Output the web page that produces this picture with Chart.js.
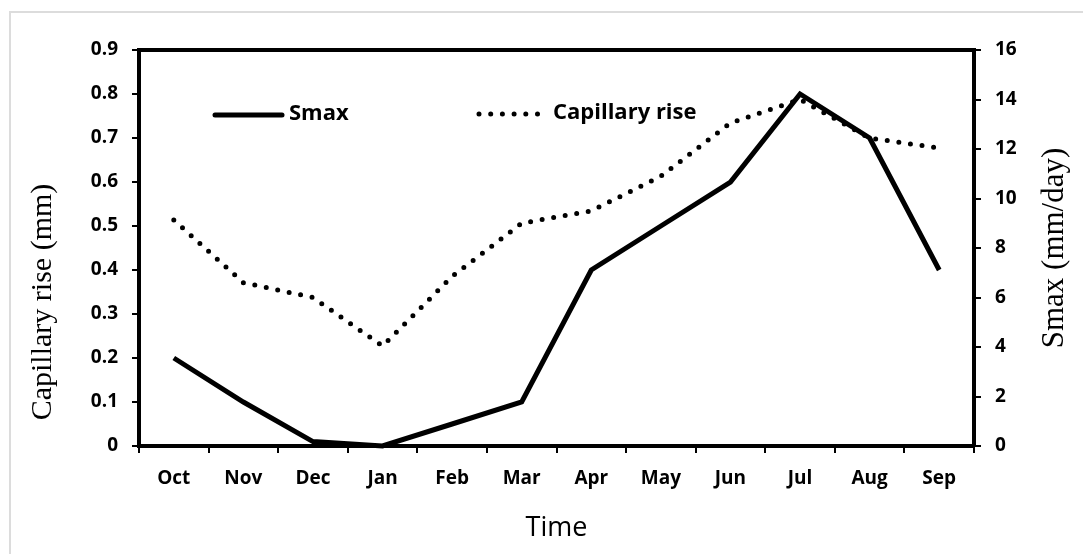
<!DOCTYPE html>
<html>
<head>
<meta charset="utf-8">
<script src="https://cdn.jsdelivr.net/npm/chart.js@4.4.1/dist/chart.umd.min.js"></script>
<style>
  body { margin: 0; background: #fff; }
  #wrap { position: relative; width: 1083px; height: 554px; overflow: hidden; }
  #frame { position: absolute; left: 9px; top: 11px; width: 1200px; height: 700px;
           border-left: 2px solid #dcdcdc; border-top: 2px solid #dcdcdc; }
  canvas { position: absolute; left: 0; top: 0; }
</style>
</head>
<body>
<div id="wrap">
  <div id="frame"></div>
  <canvas id="capChart" width="1083" height="554"></canvas>
</div>
<script>
   // Data ===============================================================
   const months = ['Oct', 'Nov', 'Dec', 'Jan', 'Feb', 'Mar', 'Apr', 'May', 'Jun', 'Jul', 'Aug', 'Sep'];
   const smax = [0.2, 0.1, 0.01, 0, 0.05, 0.1, 0.4, 0.5, 0.6, 0.8, 0.7, 0.4]; // solid line, left axis
   const capillaryRise = [9.13, 6.6, 6.0, 4.04, 6.85, 9.0, 9.5, 10.9, 13.05, 14.0, 12.44, 12.04]; // dotted line, right axis
   const leftTicks = ['0', '0.1', '0.2', '0.3', '0.4', '0.5', '0.6', '0.7', '0.8', '0.9'];
   const rightTicks = ['0', '2', '4', '6', '8', '10', '12', '14', '16'];

   Chart.defaults.font.family = '"Open Sans", Lato, sans-serif';
   Chart.defaults.color = '#000';

   // top frame line, legend inside the plot, y axis titles
   const extras = {
       id: 'extras',
       afterDraw(chart) {
           const ctx = chart.ctx;
           const a = chart.chartArea;
           ctx.save();
           ctx.strokeStyle = '#000';
           ctx.lineWidth = 4;
           ctx.beginPath();
           ctx.moveTo(a.left - 2, a.top);
           ctx.lineTo(a.right + 2, a.top);
           ctx.stroke();

           // legend
           const ds = chart.data.datasets;
           ctx.lineCap = 'round';
           ctx.lineWidth = 5;
           ctx.beginPath();
           ctx.moveTo(215, 115);
           ctx.lineTo(282, 115);
           ctx.stroke();
           ctx.setLineDash([0, 11.7]);
           ctx.beginPath();
           ctx.moveTo(479, 114);
           ctx.lineTo(545, 114);
           ctx.stroke();
           ctx.setLineDash([]);
           ctx.fillStyle = '#000';
           ctx.font = 'bold 22px "Open Sans", sans-serif';
           ctx.textBaseline = 'middle';
           ctx.textAlign = 'left';
           ctx.fillText(ds[0].label, 289, 114);
           ctx.fillText(ds[1].label, 553, 113);

           // axis titles
           ctx.font = '30px "Liberation Serif", serif';
           ctx.textAlign = 'center';
           ctx.translate(43, 302);
           ctx.rotate(-Math.PI / 2);
           ctx.fillText('Capillary rise (mm)', 0, 0);
           ctx.setTransform(1, 0, 0, 1, 0, 0);
           ctx.font = '31px "Liberation Serif", serif';
           ctx.translate(1055, 248);
           ctx.rotate(-Math.PI / 2);
           ctx.fillText('Smax (mm/day)', 0, 0);
           ctx.restore();
       }
   };

   const capChart = document.getElementById('capChart').getContext('2d');
   new Chart(capChart, {
       type: 'line',
       data: {
           labels: months,
           datasets: [
               {
                   label: 'Smax',
                   data: smax,
                   yAxisID: 'y',
                   borderColor: '#000',
                   borderWidth: 5,
                   pointRadius: 0,
                   tension: 0,
                   clip: false
               },
               {
                   label: 'Capillary rise',
                   data: capillaryRise,
                   yAxisID: 'y1',
                   borderColor: '#000',
                   borderWidth: 5,
                   borderDash: [0, 11.7],
                   borderCapStyle: 'round',
                   pointRadius: 0,
                   tension: 0,
                   clip: false
               }
           ]
       },
       options: {
           responsive: false,
           animation: false,
           layout: { padding: { top: 50, left: 0, right: 0, bottom: 0 } },
           plugins: {
               legend: { display: false },
               tooltip: { enabled: false }
           },
           scales: {
               x: {
                   offset: true,
                   grid: { offset: true, drawOnChartArea: false, color: '#000', lineWidth: 2, tickLength: 7 },
                   border: { color: '#000', width: 4 },
                   ticks: { font: { size: 19, weight: 'bold' }, padding: 14, maxRotation: 0 },
                   title: { display: true, text: 'Time', font: { size: 27 }, padding: { top: 0, bottom: 9 } },
                   afterFit(scale) { scale.height = 108; }
               },
               y: {
                   position: 'left',
                   min: 0,
                   max: 0.9,
                   ticks: {
                       stepSize: 0.1,
                       font: { size: 19, weight: 'bold' },
                       padding: 14,
                       callback: (v, i) => leftTicks[i]
                   },
                   grid: { drawOnChartArea: false, color: '#000', lineWidth: 2, tickLength: 7 },
                   border: { color: '#000', width: 4 },
                   afterFit(scale) { scale.width = 139; }
               },
               y1: {
                   position: 'right',
                   min: 0,
                   max: 16,
                   ticks: {
                       stepSize: 2,
                       font: { size: 19, weight: 'bold' },
                       padding: 14,
                       callback: (v, i) => rightTicks[i]
                   },
                   grid: { drawOnChartArea: false, color: '#000', lineWidth: 2, tickLength: 7 },
                   border: { color: '#000', width: 4 },
                   afterFit(scale) { scale.width = 109; }
               }
           }
       },
       plugins: [extras]
   });
</script>
</body>
</html>
